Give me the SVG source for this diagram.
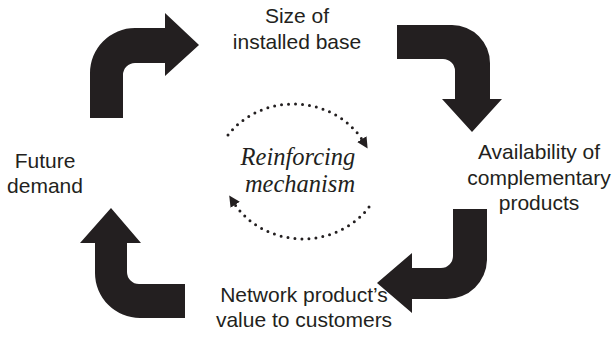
<svg xmlns="http://www.w3.org/2000/svg" width="613" height="353" viewBox="0 0 613 353">
<style>
.arr{fill:#231f20;stroke:none}
.lbl{font-family:"Liberation Sans",Arial,sans-serif;font-size:21px;fill:#231f20;text-anchor:middle}
.mech{font-family:"Liberation Serif","DejaVu Serif",serif;font-style:italic;font-size:24.5px;fill:#231f20;text-anchor:middle}
.dot{fill:none;stroke:#231f20;stroke-width:3;stroke-linecap:round;stroke-dasharray:0 7}
</style>
<defs>
<marker id="tri" viewBox="0 0 10 10" refX="2" refY="5" markerWidth="11" markerHeight="11" markerUnits="userSpaceOnUse" orient="auto">
<path d="M0,0 L10,5 L0,10 Z" fill="#231f20"/>
</marker>
</defs>
<rect width="613" height="353" fill="#ffffff"/>
<g id="connectors">
<path id="arrow-size-to-avail" class="arr" d="M397,25 L452,25 A38,38 0 0 1 490,63 L490,99 L502,99 L472,132 L442,99 L455,99 L455,71 A12,12 0 0 0 443,59 L397,59 Z"/>
<path id="arrow-avail-to-value" class="arr" d="M453,209 L487,209 L487,260 A40,40 0 0 1 447,299 L412,299 L412,313 L377,283 L412,253 L412,268 L441,268 A12,12 0 0 0 453,256 Z"/>
<path id="arrow-value-to-demand" class="arr" d="M185,284 L185,318 L140,318 A45,45 0 0 1 95,273 L95,243 L80,243 L111,208 L141,243 L127,243 L127,272 A12,12 0 0 0 139,284 Z"/>
<path id="arrow-demand-to-size" class="arr" d="M90,118 L90,73 A45,45 0 0 1 135,28 L165,28 L165,13 L199,45 L165,76 L165,63 L135,63 A12,12 0 0 0 123,75 L123,118 Z"/>
<path id="loop-top" class="dot" d="M228,135 A80,73 0 0 1 363,141" marker-end="url(#tri)"/>
<path id="loop-bottom" class="dot" d="M369,207 A80,73 0 0 1 234,203" marker-end="url(#tri)"/>
</g>
<g id="node-size">
<text class="lbl" x="297" y="23">Size of</text>
<text class="lbl" x="297" y="49">installed base</text>
</g>
<g id="node-avail">
<text class="lbl" x="539" y="159">Availability of</text>
<text class="lbl" x="539" y="185">complementary</text>
<text class="lbl" x="539" y="210">products</text>
</g>
<g id="node-value">
<text class="lbl" x="304" y="302">Network product’s</text>
<text class="lbl" x="304" y="327">value to customers</text>
</g>
<g id="node-demand">
<text class="lbl" x="45" y="168">Future</text>
<text class="lbl" x="45" y="193">demand</text>
</g>
<g id="node-mechanism">
<text class="mech" x="298" y="165">Reinforcing</text>
<text class="mech" x="300" y="192">mechanism</text>
</g>
</svg>
